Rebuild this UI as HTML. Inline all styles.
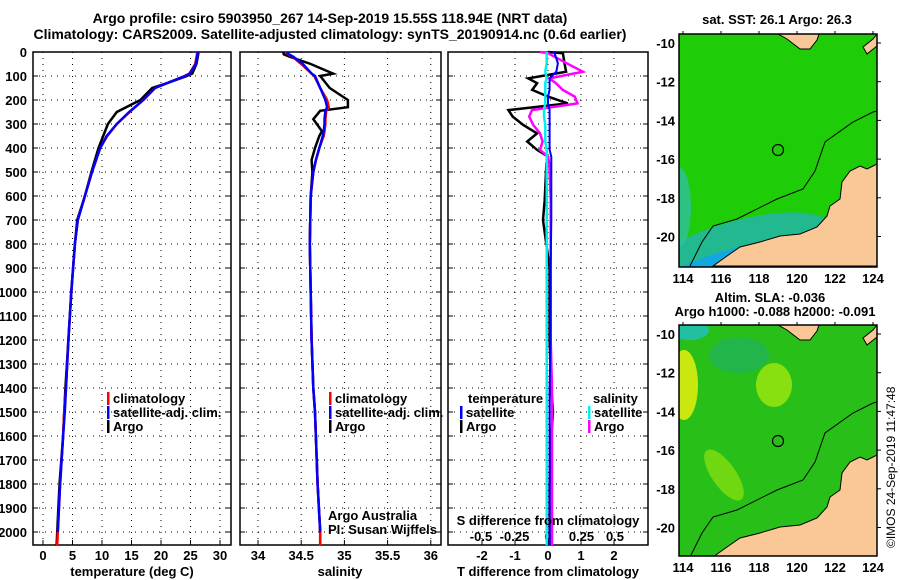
<!DOCTYPE html>
<html><head><meta charset="utf-8"><style>
html,body{margin:0;padding:0;background:#fff;}
svg{display:block;font-family:"Liberation Sans",sans-serif;}
.b{font-weight:bold;font-size:13px;}
</style></head><body>
<svg id="s" width="900" height="580" viewBox="0 0 900 580" xmlns="http://www.w3.org/2000/svg">
<defs>
<clipPath id="clipSst"><rect x="0" y="0" width="198" height="233"/></clipPath>
<clipPath id="clipSla"><rect x="0" y="0" width="198" height="231"/></clipPath>
</defs>
<text x="330" y="23" text-anchor="middle" font-weight="bold" font-size="14">Argo profile: csiro 5903950_267 14-Sep-2019 15.55S 118.94E (NRT data)</text>
<text x="330" y="39" text-anchor="middle" font-weight="bold" font-size="14">Climatology: CARS2009. Satellite-adjusted climatology: synTS_20190914.nc (0.6d earlier)</text>
<text x="777" y="24" text-anchor="middle" class="b">sat. SST: 26.1 Argo: 26.3</text>
<text x="770" y="302" text-anchor="middle" class="b">Altim. SLA: -0.036</text>
<text x="775" y="316" text-anchor="middle" class="b">Argo h1000: -0.088 h2000: -0.091</text>
<text transform="translate(895,548) rotate(-90)" font-size="12">©IMOS 24-Sep-2019 11:47:48</text>
<g id="g"></g>
</svg>
<script>
// ---- data ----
const depthsT = [0,10,50,90,100,130,150,200,250,300,350,400,500,600,700,800,1000,1200,1400,1500,1600,1800,2000,2055];
const tempArgo = [26.3,26.3,26.0,25.3,24.4,21,18.5,16.5,12.5,11.0,10.2,9.4,8.2,7.1,5.8,5.4,4.8,4.3,3.8,3.6,3.4,2.8,2.4,2.3];
const tempClim = [26.1,26.1,25.8,24.8,24.0,21,19,17.0,14.7,12.5,10.9,9.7,8.3,7.1,5.9,5.4,4.8,4.3,3.9,3.6,3.4,2.9,2.5,2.4];
const tempSat  = [26.2,26.2,25.9,24.9,24.1,21,19,17.0,14.6,12.5,10.8,9.7,8.3,7.1,5.9,5.4,4.8,4.3,3.9,3.7,3.4,2.9,2.5];
const depthsS = [0,10,20,50,90,100,150,200,230,245,280,300,330,350,400,450,500,600,800,1000,1200,1400,1500,1800,2000,2055];
const salArgo = [34.29,34.3,34.37,34.61,34.87,34.72,34.83,35.04,35.04,34.72,34.64,34.68,34.74,34.71,34.66,34.62,34.63,34.61,34.60,34.61,34.62,34.64,34.66,34.69,34.72,34.72];
const salClim = [34.32,34.35,34.4,34.5,34.62,34.65,34.72,34.8,34.82,34.79,34.78,34.78,34.77,34.76,34.71,34.67,34.64,34.61,34.60,34.61,34.62,34.64,34.66,34.69,34.72,34.72];
const salSat  = [34.33,34.36,34.41,34.52,34.62,34.66,34.72,34.78,34.8,34.78,34.77,34.77,34.76,34.75,34.71,34.67,34.64,34.61,34.60,34.61,34.62,34.64,34.66,34.69,34.72];
const depthsD = [0,5,47,82,110,130,158,186,214,242,269,304,339,373,408,436,464,617,700,900,1200,1400,1500,1600,1800,2000,2055];
const dTArgo = [0,0.45,0.5,0.55,-0.6,-0.33,-0.48,0,0.6,-1.2,-1.07,-0.75,-0.33,-0.63,-0.33,0,-0.05,-0.1,-0.15,0.05,0.05,0.1,0.15,0.1,0.05,0.05,0.05];
const dTSat  = [0.15,0.2,0.3,0.25,0.05,0.05,0.05,0,0,0.05,0.05,0.05,0.05,0.05,0.05,0.1,0.1,0.1,0.1,0.08,0.08,0.05,0.05,0.05,0.05,0.05,0.05];
const dSArgo = [-0.06,0,0.14,0.26,0.01,0.06,0.11,0.2,0.22,-0.12,-0.14,-0.11,-0.06,-0.04,-0.06,0,0.01,0.02,0.02,0.02,0.02,0.03,0.03,0.03,0.03,0.03,0.03];
const dSSat  = [-0.01,-0.01,-0.01,-0.02,-0.01,-0.02,-0.02,-0.02,-0.02,-0.03,-0.03,-0.02,-0.02,-0.02,-0.01,-0.01,-0.01,-0.01,-0.01,-0.01,-0.01,-0.01,-0.01,-0.01,-0.01,-0.01,-0.01];
const depthTicks = [0,100,200,300,400,500,600,700,800,900,1000,1100,1200,1300,1400,1500,1600,1700,1800,1900,2000];
const tempTicks = [0,5,10,15,20,25,30];
const salTicks = [34,34.5,35,35.5,36];
const salTickLabels = ["34","34.5","35","35.5","36"];
const dTTicks = [-2,-1,0,1,2];
const dSTicks = [-0.5,-0.25,0,0.25,0.5];
const dSTickLabels = ["-0.5","-0.25","0","0.25","0.5"];
const latTicks = [-10,-12,-14,-16,-18,-20];
const lonTicks = [114,116,118,120,122,124];

// ---- axes ----
const yTop=52, yBot=545;
const yD = d => yTop + d*0.24;
const xT = v => 43 + v*5.9;
const xS = v => 258 + (v-34)*86.4;
const xDT = v => 548 + v*33;
const xDS = v => 548 + v*134;

const NS="http://www.w3.org/2000/svg", G=document.getElementById('g');
function el(tag, attrs, parent){const e=document.createElementNS(NS,tag);for(const k in attrs)e.setAttribute(k,attrs[k]);(parent||G).appendChild(e);return e;}
function txt(x,y,s,anchor,cls,parent){const t=el('text',{x:x,y:y,'text-anchor':anchor||'start','class':cls||'b'},parent);t.textContent=s;return t;}

function panel(name,x0,x1,xf,ticks,labels){
  const g=el('g',{});
  
  
  depthTicks.forEach(d=>{ if(d>0) el('line',{x1:x0,x2:x1,y1:yD(d),y2:yD(d),stroke:'#000','stroke-dasharray':'1,5','stroke-width':1},g);
    el('line',{x1:x0,x2:x0+5,y1:yD(d),y2:yD(d),stroke:'#000'},g); el('line',{x1:x1-5,x2:x1,y1:yD(d),y2:yD(d),stroke:'#000'},g);});
  ticks.forEach((v,i)=>{const x=xf(v); el('line',{x1:x,x2:x,y1:yTop,y2:yBot,stroke:'#000','stroke-dasharray':'1,5'},g);
    el('line',{x1:x,x2:x,y1:yBot-5,y2:yBot,stroke:'#000'},g);
    if(labels){const t=txt(x,560,labels[i],'middle','b',g); }});
  el('rect',{x:x0,y:yTop,width:x1-x0,height:yBot-yTop,fill:'none',stroke:'#000','stroke-width':1.5},g);
  return g;
}
function line(name,ds,vs,xf,color,w){
  const p=el('polyline',{points:ds.slice(0,vs.length).map((d,i)=>xf(vs[i]).toFixed(1)+','+yD(d).toFixed(1)).join(' '),fill:'none',stroke:color,'stroke-width':w||2.5});
  
  
}
panel('temperature-panel',33,231,xT,tempTicks,tempTicks.map(String));
panel('salinity-panel',240,441,xS,salTicks,salTickLabels);
panel('difference-panel',448,648,xDT,dTTicks,dTTicks.map(String));
depthTicks.forEach(d=>{const t=txt(27,yD(d)+5,String(d),'end');});
dSTicks.forEach((v,i)=>{const t=txt(xDS(v),541,dSTickLabels[i],'middle');});

line('temp-argo-line',depthsT,tempArgo,xT,'#000',2.5);
line('temp-clim-line',depthsT,tempClim,xT,'#f00',2.5);
line('temp-sat-line',depthsT,tempSat,xT,'#00f',2.5);
line('sal-argo-line',depthsS,salArgo,xS,'#000',2.5);
line('sal-clim-line',depthsS,salClim,xS,'#f00',2.5);
line('sal-sat-line',depthsS,salSat,xS,'#00f',2.5);
line('tdiff-argo-line',depthsD,dTArgo,xDT,'#000',2.5);
line('sdiff-argo-line',depthsD,dSArgo,xDS,'#f0f',2.5);
line('tdiff-sat-line',depthsD,dTSat,xDT,'#00f',2);
line('sdiff-sat-line',depthsD,dSSat,xDS,'#0ee',2.5);

function leg(name,x,y,color,label){
  const g=el('g',{});
  
  
  el('rect',{x:x,y:y-11,width:2.5,height:13,fill:color},g);
  txt(x+6,y,label,'start','b',g);
}
leg('legend-climatology-t',107,403,'#f00','climatology');
leg('legend-sat-t',107,417,'#00f','satellite-adj. clim.');
leg('legend-argo-t',107,431,'#000','Argo');
leg('legend-climatology-s',329,403,'#f00','climatology');
leg('legend-sat-s',329,417,'#00f','satellite-adj. clim.');
leg('legend-argo-s',329,431,'#000','Argo');
const lh1=txt(468,403,'temperature','start','b');

const lh2=txt(593,403,'salinity','start','b');

leg('legend-tdiff-sat',460,417,'#00f','satellite');
leg('legend-tdiff-argo',460,431,'#000','Argo');
leg('legend-sdiff-sat',588,417,'#0ee','satellite');
leg('legend-sdiff-argo',588,431,'#f0f','Argo');
const a1=txt(328,520,'Argo Australia','start',''); a1.setAttribute('font-size','12');
const a2=txt(328,534,'PI: Susan Wijffels','start',''); a2.setAttribute('font-size','12');
const t3=txt(548,525,'S difference from climatology','middle');

const t1=txt(132,576,'temperature (deg C)','middle');

const t2=txt(340,576,'salinity','middle');

const t4=txt(548,576,'T difference from climatology','middle');


// ---- maps ----
const coast=[[34,232],[48,222],[61,213],[81,208],[101,202],[121,200],[138,193],[148,182],[151,172],[161,165],[163,148],[171,137],[181,132],[188,135],[194,132],[198,130],[198,232]];
const isle=[[99,0],[140,0],[138,6],[131,15],[121,15],[108,5]];
const contour=[[11,232],[23,208],[34,192],[58,185],[98,165],[124,155],[136,137],[146,108],[174,88],[194,78],[198,77]];
function map(name,x0,y0,h,kind){
  const g=el('g',{transform:'translate('+x0+','+y0+')'});
  
  
  const W=198;
  const c=el('g',{'clip-path':kind==='sst'?'url(#clipSst)':'url(#clipSla)'},g);
  if(kind==='sst'){
    el('rect',{width:W,height:h,fill:'#1fcc08'},c);
    el('ellipse',{cx:50,cy:h-5,rx:110,ry:38,fill:'#22b890',transform:'rotate(-18 50 '+(h-5)+')'},c);
    el('ellipse',{cx:55,cy:h,rx:80,ry:18,fill:'#10a8e0',transform:'rotate(-15 55 '+h+')'},c);
    el('ellipse',{cx:0,cy:h-60,rx:12,ry:40,fill:'#30c0a0',opacity:0.8},c);
  } else {
    el('rect',{width:W,height:h,fill:'#28c018'},c);
    el('ellipse',{cx:5,cy:60,rx:14,ry:35,fill:'#c8e810'},c);
    el('ellipse',{cx:95,cy:60,rx:18,ry:22,fill:'#88e010'},c);
    el('ellipse',{cx:45,cy:150,rx:12,ry:30,fill:'#70d810',transform:'rotate(-35 45 150)'},c);
    el('ellipse',{cx:60,cy:30,rx:30,ry:18,fill:'#20b060',opacity:0.7},c);
    el('ellipse',{cx:10,cy:5,rx:20,ry:10,fill:'#20c0a0'},c);
  }
  el('polygon',{points:coast.map(p=>p.join(',')).join(' '),fill:'#fac896',stroke:'#000','stroke-width':1},c);
  el('polygon',{points:isle.map(p=>p.join(',')).join(' '),fill:'#fac896',stroke:'#000','stroke-width':1},c);
  el('polygon',{points:'184,13 194,5 198,0 198,12 188,20',fill:'#fac896',stroke:'#000'},c);
  el('polyline',{points:contour.map(p=>p.join(',')).join(' '),fill:'none',stroke:'#000','stroke-width':1},c);
  el('circle',{cx:99,cy:116,r:5.5,fill:'none',stroke:'#000','stroke-width':1.2},c);
  el('rect',{width:W,height:h,fill:'none',stroke:'#000','stroke-width':1.5},g);
  latTicks.forEach(v=>{const y=9+(-10-v)*19.35; el('line',{x1:W,x2:W+4,y1:y,y2:y,stroke:'#000'},g); txt(-4,y+5,String(v),'end','b',g);});
  lonTicks.forEach(v=>{const x=4+(v-114)*19; el('line',{x1:x,x2:x,y1:-3,y2:0,stroke:'#000'},g); txt(x,h+16,String(v),'middle','b',g);});
}
map('sst-map',679,34,233,'sst');
map('sla-map',679,325,231,'sla');
</script>
</body></html>
